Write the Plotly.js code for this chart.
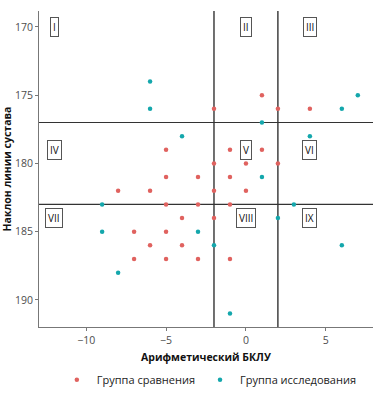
<!DOCTYPE html>
<html><head><meta charset="utf-8">
<script src="https://cdn.plot.ly/plotly-3.0.1.min.js"></script>
<style>body{margin:0;background:#fff}#chart{width:388px;height:399px}</style>
</head><body><div id="chart"></div>
<script>
// Группа сравнения
const compX = [-2, 1, 2, 4, -5, -1, 1, -2, 0, 2, -5, -3, -1, -8, -6, -2, 0, -5, -3, -1, -4, -2, -7, -5, -6, -4, -7, -5, -3, -1];
const compY = [176, 175, 176, 176, 179, 179, 179, 180, 180, 180, 181, 181, 181, 182, 182, 182, 182, 183, 183, 183, 184, 184, 185, 185, 186, 186, 187, 187, 187, 187];
// Группа исследования
const studX = [-6, 7, -6, 6, 1, -4, 4, 1, -9, 3, 2, -9, -3, -2, 6, -8, -1];
const studY = [174, 175, 176, 176, 177, 178, 178, 181, 183, 183, 184, 185, 185, 186, 186, 188, 191];
// Пороговые линии
const vLines = [-2, 2];
const hLines = [177, 183];
// Метки зон
const zoneLabels = ['I', 'II', 'III', 'IV', 'V', 'VI', 'VII', 'VIII', 'IX'];
const zoneX = [-12, 0, 4, -12, 0, 4, -12, 0, 4];
const zoneY = [170, 170, 170, 179, 179, 179, 184, 184, 184];
const xTicks = [-10, -5, 0, 5];
const yTicks = [170, 175, 180, 185, 190];

const FONT = 'Open Sans, Noto Sans, sans-serif';
const traces = [
  {x: compX, y: compY, mode: 'markers', type: 'scatter', name: 'Группа сравнения',
   marker: {color: '#E0625F', size: 4.5}},
  {x: studX, y: studY, mode: 'markers', type: 'scatter', name: 'Группа исследования',
   marker: {color: '#14A7AC', size: 4.5}}
];
const shapes = [];
vLines.forEach(v => shapes.push({type: 'line', xref: 'x', yref: 'paper', x0: v, x1: v, y0: 0, y1: 1,
  line: {color: '#111', width: 1.2}, layer: 'below'}));
hLines.forEach(h => shapes.push({type: 'line', xref: 'paper', yref: 'y', x0: 0, x1: 1, y0: h, y1: h,
  line: {color: '#333', width: 1.2}, layer: 'below'}));
const annotations = zoneLabels.map((t, i) => ({
  x: zoneX[i], y: zoneY[i], xref: 'x', yref: 'y', text: t, showarrow: false,
  font: {family: FONT, size: 10, color: '#111'},
  bordercolor: '#555', borderwidth: 1, borderpad: 2, bgcolor: '#fff'
}));
const layout = {
  width: 388, height: 399,
  margin: {l: 39, r: 15, t: 11, b: 72},
  paper_bgcolor: '#fff', plot_bgcolor: '#fff',
  font: {family: FONT, size: 11, color: '#4D4D4D'},
  showlegend: true,
  legend: {orientation: 'h', x: 0.51, xanchor: 'center', yref: 'container', y: 0.048, yanchor: 'middle',
    font: {family: FONT, size: 11, color: '#222'}, itemwidth: 30},
  xaxis: {range: [-12.95, 7.95], tickvals: xTicks, ticks: 'outside', ticklen: 3, tickcolor: '#777',
    showgrid: false, zeroline: false, showline: true, linecolor: '#777', linewidth: 1, automargin: false,
    tickfont: {family: FONT, size: 10.5, color: '#4D4D4D'},
    title: {text: '<b>Арифметический БКЛУ</b>', font: {family: FONT, size: 10.5, color: '#111'}, standoff: 8}},
  yaxis: {range: [191.98, 168.83], tickvals: yTicks, ticks: 'outside', ticklen: 3, tickcolor: '#777',
    showgrid: false, zeroline: false, showline: true, linecolor: '#777', linewidth: 1, automargin: false,
    tickfont: {family: FONT, size: 10.5, color: '#4D4D4D'},
    title: {text: '<b>Наклон линии сустава</b>', font: {family: FONT, size: 10.5, color: '#111'}, standoff: 6}},
  shapes: shapes,
  annotations: annotations
};
Plotly.newPlot('chart', traces, layout, {displayModeBar: false, staticPlot: true});
</script></body></html>
